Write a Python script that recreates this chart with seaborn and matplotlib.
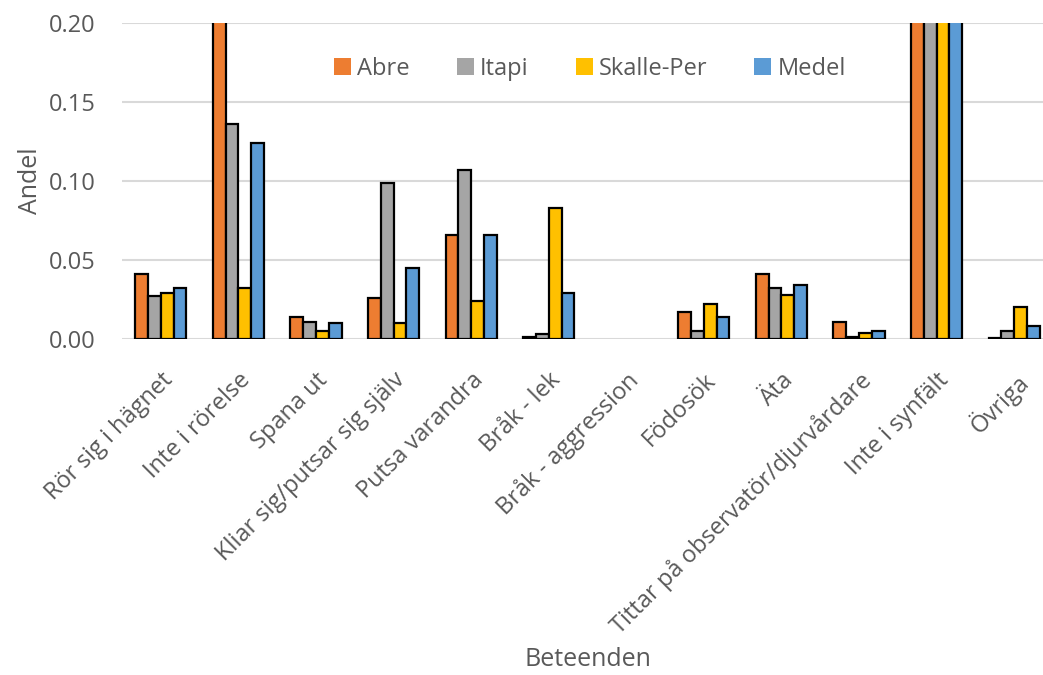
import matplotlib
matplotlib.use("Agg")
import matplotlib.pyplot as plt
import seaborn as sns
import pandas as pd

# Behaviour categories and share of observation time per individual
beteenden = [
    "Rör sig i hägnet", "Inte i rörelse", "Spana ut", "Kliar sig/putsar sig själv",
    "Putsa varandra", "Bråk - lek", "Bråk - aggression", "Födosök", "Äta",
    "Tittar på observatör/djurvårdare", "Inte i synfält", "Övriga",
]
abre = [0.041, 0.203, 0.014, 0.026, 0.066, 0.001, 0.0, 0.017, 0.041, 0.011, 0.580, 0.0005]
itapi = [0.027, 0.136, 0.011, 0.099, 0.107, 0.003, 0.0, 0.005, 0.032, 0.001, 0.573, 0.005]
skalle_per = [0.029, 0.032, 0.005, 0.010, 0.024, 0.083, 0.0, 0.022, 0.028, 0.004, 0.744, 0.020]
medel = [0.032, 0.124, 0.010, 0.045, 0.066, 0.029, 0.0, 0.014, 0.034, 0.005, 0.632, 0.008]

individer = ["Abre", "Itapi", "Skalle-Per", "Medel"]
farger = ["#ED7D31", "#A5A5A5", "#FFC000", "#5B9BD5"]

df = pd.DataFrame({
    "Beteende": beteenden * 4,
    "Andel": abre + itapi + skalle_per + medel,
    "Individ": [n for n in individer for _ in beteenden],
})

sns.set_theme(style="white")
plt.rcParams["font.family"] = ["Open Sans", "DejaVu Sans"]
textfarg = "#595959"

fig = plt.figure(figsize=(10.43, 6.75), dpi=100)
ax = fig.add_axes([122 / 1043, 336 / 675, 931 / 1043, 316 / 675])

sns.barplot(
    data=df, x="Beteende", y="Andel", hue="Individ", order=beteenden,
    hue_order=individer, palette=farger, saturation=1, width=0.66,
    edgecolor="black", linewidth=1.6, ax=ax, legend=True,
)

# zero-height bars get no outline
for p in ax.patches:
    if p.get_height() == 0:
        p.set_linewidth(0)

ax.set_ylim(0, 0.20)
ax.set_yticks([0, 0.05, 0.10, 0.15, 0.20])
ax.set_yticklabels([f"{v:.2f}" for v in [0, 0.05, 0.10, 0.15, 0.20]])
ax.yaxis.grid(True, color="#D9D9D9", linewidth=1.5)
ax.set_axisbelow(True)
for s in ax.spines.values():
    s.set_visible(False)
ax.tick_params(axis="both", length=0, labelsize=17, colors=textfarg)
ax.tick_params(axis="y", pad=19)
ax.tick_params(axis="x", pad=21)
for lab in ax.get_xticklabels():
    lab.set_rotation(45)
    lab.set_ha("right")
    lab.set_rotation_mode("anchor")

ax.set_xlabel("Beteenden", fontsize=18, color=textfarg, labelpad=6)
ax.set_ylabel("Andel", fontsize=18, color=textfarg, labelpad=4)

ax.legend(
    loc="center", bbox_to_anchor=(590 / 1043, 1 - 69 / 675),
    bbox_transform=fig.transFigure, ncol=4, frameon=False, fontsize=17,
    handlelength=0.72, handleheight=0.72, handletextpad=0.25, columnspacing=2.0,
    labelcolor=textfarg, title=None,
)

fig.savefig("out.png", dpi=100)
